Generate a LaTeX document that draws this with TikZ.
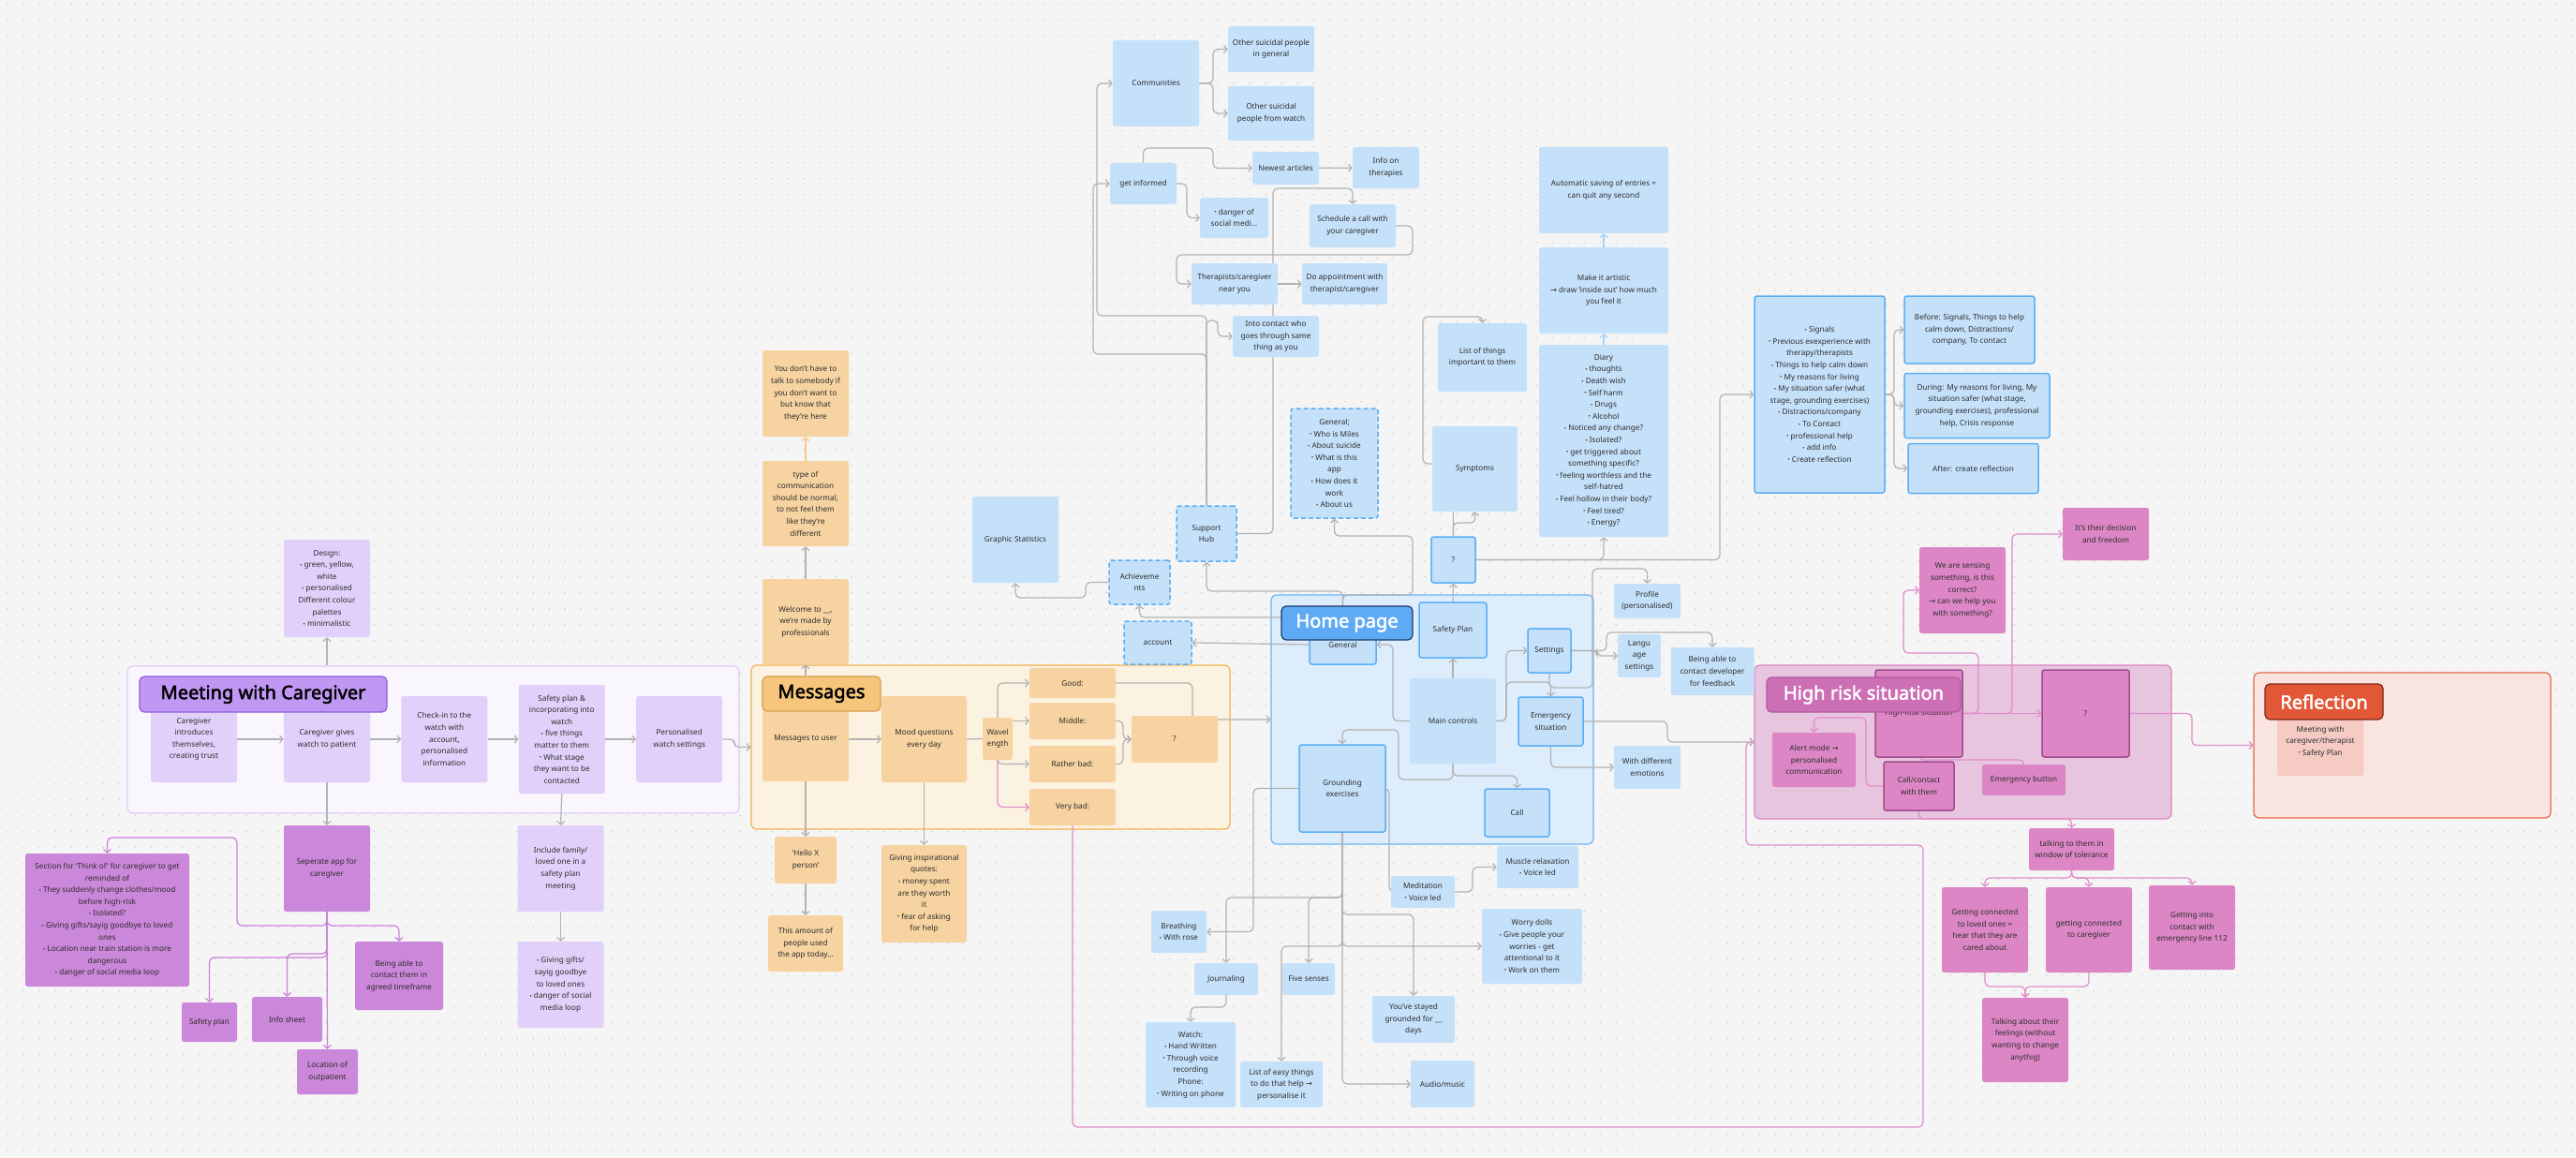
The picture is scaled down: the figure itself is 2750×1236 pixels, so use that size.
\documentclass[tikz,border=0pt]{standalone}
\usepackage{fontspec}
\setmainfont{Noto Sans}
\newfontfamily\headfont{Noto Sans}[FakeBold=2.2]
\newfontfamily\symfont{DejaVu Sans}
\usetikzlibrary{positioning, arrows.meta, backgrounds, patterns.meta}
\definecolor{canvas}{HTML}{F5F5F5}
\definecolor{dotc}{HTML}{BDBDBD}
\definecolor{ink}{HTML}{2C2C2C}
\definecolor{wire}{HTML}{B2B2B2}
\definecolor{lavender}{HTML}{E1D1FA}
\definecolor{meetfill}{HTML}{F9F6FE}
\definecolor{meetline}{HTML}{DDCCF8}
\definecolor{meettitle}{HTML}{C197F4}
\definecolor{meetedge}{HTML}{8F5CD6}
\definecolor{orchid}{HTML}{CB87D9}
\definecolor{orchidwire}{HTML}{CD7FDB}
\definecolor{apricot}{HTML}{F6D3A0}
\definecolor{msgfill}{HTML}{FCF2E1}
\definecolor{msgline}{HTML}{F4B04F}
\definecolor{msgtitle}{HTML}{F5C67C}
\definecolor{msgedge}{HTML}{D69D4C}
\definecolor{peach}{HTML}{F7C88A}
\definecolor{skyfill}{HTML}{C5E1FA}
\definecolor{azure}{HTML}{5AAEF4}
\definecolor{homefill}{HTML}{DDEDFC}
\definecolor{homeline}{HTML}{6CB4F4}
\definecolor{hometitle}{HTML}{5EAAF5}
\definecolor{homeedge}{HTML}{1C3A68}
\definecolor{paleblue}{HTML}{A7D2F5}
\definecolor{rosefill}{HTML}{DC86C5}
\definecolor{rosedark}{HTML}{A14A8C}
\definecolor{riskfill}{HTML}{E7C5DE}
\definecolor{riskline}{HTML}{D984C3}
\definecolor{risktitle}{HTML}{CC6FB5}
\definecolor{riskedge}{HTML}{B25A9E}
\definecolor{riskwire}{HTML}{E18CCB}
\definecolor{reflfill}{HTML}{F9E4E0}
\definecolor{reflline}{HTML}{E8684C}
\definecolor{refltitle}{HTML}{E25735}
\definecolor{refledge}{HTML}{7A2A1B}
\definecolor{coralfill}{HTML}{F5CBC4}

\tikzdeclarepattern{
  name=griddots,
  type=uncolored,
  bounding box={(0pt,0pt) and (16.7pt,16.7pt)},
  tile size={(16.7pt,16.7pt)},
  code={\fill (8.35pt,8.35pt) circle (0.75pt);}
}
\pgfdeclarelayer{background}
\pgfdeclarelayer{links}
\pgfdeclarelayer{top}
\pgfsetlayers{background,links,main,top}

\newcommand{\bul}{\raisebox{0.1ex}{\scalebox{0.75}{•}}\ }
\newcommand{\rarr}{{\symfont →}}

\begin{document}
\begin{tikzpicture}[x=1pt, y=-1pt,
    card/.style={rounded corners=2.5pt, align=center, inner sep=1pt, text=ink, font=\fontsize{8.2}{12.6}\selectfont},
    sz/.style 2 args={minimum width=#1pt, minimum height=#2pt},
    lav/.style={card, fill=lavender},
    plum/.style={card, fill=orchid},
    sand/.style={card, fill=apricot},
    sky/.style={card, fill=skyfill},
    skyrim/.style={sky, draw=azure, line width=1.5pt},
    skydash/.style={sky, draw=azure, line width=1.5pt, dash pattern=on 5pt off 3pt},
    rose/.style={card, fill=rosefill},
    roserim/.style={rose, draw=rosedark, line width=1.5pt},
    coral/.style={card, fill=coralfill},
    frame/.style={rounded corners=6pt, line width=1.2pt},
    banner/.style={rounded corners=5pt, line width=1.2pt, inner sep=0pt, font=\headfont\fontsize{20}{22}\selectfont},
    link/.style={draw=wire, line width=1.2pt, rounded corners=5pt, -{Straight Barb[length=3.5pt,width=8pt]}}
]
\useasboundingbox (0,0) rectangle (2750,1236);

% Canvas and section frames
\begin{pgfonlayer}{background}
\fill[canvas] (0,0) rectangle (2750,1236);
\fill[pattern=griddots, pattern color=dotc] (0,0) rectangle (2750,1236);
\node[frame, fill=meetfill, draw=meetline, sz={653}{157}] (meetbox) at (462.5,789.5) {};
\node[frame, fill=msgfill, draw=msgline, sz={511}{175}] (msgbox) at (1057.5,797.5) {};
\node[frame, fill=homefill, draw=homeline, sz={344}{266}] (homebox) at (1529,768) {};
\node[frame, fill=riskfill, draw=riskline, sz={445}{164}] (riskbox) at (2095.5,792) {};
\node[frame, fill=reflfill, draw=reflline, sz={317}{155}] (reflbox) at (2564.5,795.5) {};
\end{pgfonlayer}

% Meeting with Caregiver
\node[lav, sz={92}{92}] (cgintro) at (207,789) {Caregiver\\introduces\\themselves,\\creating trust};
\node[lav, sz={92}{92}] (cggive) at (349,789) {Caregiver gives\\watch to patient};
\node[lav, sz={92}{92}, right=33pt of cggive] (checkin) {Check-in to the\\watch with\\account,\\personalised\\information};
\node[lav, sz={92}{116}, right=33pt of checkin] (safeplan) {Safety plan \&\\incorporating into\\watch\\\bul five things\\matter to them\\\bul What stage\\they want to be\\contacted};
\node[lav, sz={92}{92}, right=33pt of safeplan] (watchset) {Personalised\\watch settings};
\node[lav, sz={92}{104}] (design) at (349,628) {Design:\\\bul green, yellow,\\white\\\bul personalised\\Different colour\\palettes\\\bul minimalistic};
\node[plum, sz={92}{92}] (sepapp) at (349,927) {Seperate app for\\caregiver};
\node[lav, sz={92}{92}] (family) at (598.5,927) {Include family/\\loved one in a\\safety plan\\meeting};
\node[lav, sz={92}{92}] (gifts) at (598.5,1051) {\bul Giving gifts/\\sayig goodbye\\to loved ones\\\bul danger of social\\media loop};
\node[plum, sz={175}{142}] (thinkof) at (114.5,982) {Section for ‘Think of’ for caregiver to get\\reminded of\\\bul They suddenly change clothes/mood\\before high-risk\\\bul Isolated?\\\bul Giving gifts/sayig goodbye to loved\\ones\\\bul Location near train station is more\\dangerous\\\bul danger of social media loop};
\node[plum, sz={59}{42}] (safetysmall) at (223.5,1091) {Safety plan};
\node[plum, sz={75}{48}] (infosheet) at (306.5,1088) {Info sheet};
\node[plum, sz={94}{73}] (reachable) at (426,1041.5) {Being able to\\contact them in\\agreed timeframe};
\node[plum, sz={65}{48}] (outpatient) at (349.5,1144) {Location of\\outpatient};

% Messages
\node[sand, sz={92}{90}] (msguser) at (860,789) {Messages to user};
\node[sand, sz={91}{92}] (mood) at (986.5,789) {Mood questions\\every day};
\node[sand, sz={32}{45}] (wave) at (1065,788.5) {Wavel\\ength};
\node[sand, sz={92}{32}] (good) at (1145,729) {Good:};
\node[sand, sz={92}{39}] (middle) at (1145,769.5) {Middle:};
\node[sand, sz={92}{39}] (ratherbad) at (1145,815.5) {Rather bad:};
\node[sand, sz={92}{39}] (verybad) at (1145,861.5) {Very bad:};
\node[sand, sz={92}{50}] (moodq) at (1254,789) {?};
\node[sand, sz={92}{91}] (welcome) at (860,663.5) {Welcome to \_\_,\\we’re made by\\professionals};
\node[sand, sz={92}{91}] (normalcomm) at (860,537.5) {type of\\communication\\should be normal,\\to not feel them\\like they’re\\different};
\node[sand, sz={92}{92}] (nopressure) at (860,420) {You don’t have to\\talk to somebody if\\you don’t want to\\but know that\\they’re here};
\node[sand, sz={66}{50}] (hello) at (860,918) {‘Hello X\\person’};
\node[sand, sz={80}{60}] (usedtoday) at (860,1007) {This amount of\\people used\\the app today…};
\node[sand, sz={91}{104}] (quotes) at (986.5,954) {Giving inspirational\\quotes:\\\bul money spent\\are they worth\\it\\\bul fear of asking\\for help};

% Support hub and information
\node[sky, sz={92}{92}] (stats) at (1084,576) {Graphic Statistics};
\node[skydash, sz={64}{59}] (hub) at (1288,569.5) {Support\\Hub};
\node[skydash, sz={65}{47}] (achieve) at (1216.5,621.5) {Achieveme\\nts};
\node[skydash, sz={72}{46}] (account) at (1236,686) {account};
\node[skydash, sz={93}{117}] (general) at (1424.5,494.5) {General;\\\bul Who is Miles\\\bul About suicide\\\bul What is this\\app\\\bul How does it\\work\\\bul About us};
\node[sky, sz={92}{92}] (community) at (1234,89) {Communities};
\node[sky, sz={92}{49}] (peergen) at (1357,52.5) {Other suicidal people\\in general};
\node[sky, sz={92}{58}] (peerwatch) at (1357,121) {Other suicidal\\people from watch};
\node[sky, sz={71}{44}] (informed) at (1220.5,196) {get informed};
\node[sky, sz={71}{35}] (articles) at (1372.5,179.5) {Newest articles};
\node[sky, sz={71}{44}] (therapies) at (1479.5,179) {Info on\\therapies};
\node[sky, sz={73}{43}] (socialmedia) at (1317.5,232.5) {\bul danger of\\social medi…};
\node[sky, sz={92}{46}] (schedule) at (1444,241) {Schedule a call with\\your caregiver};
\node[sky, sz={92}{44}] (nearyou) at (1318,303) {Therapists/caregiver\\near you};
\node[sky, sz={91}{44}] (appoint) at (1435.5,303) {Do appointment with\\therapist/caregiver};
\node[sky, sz={92}{44}] (samething) at (1362,359) {Into contact who\\goes through same\\thing as you};

% Diary and safety plan details
\node[sky, sz={138}{92}] (autosave) at (1712,203) {Automatic saving of entries =\\can quit any second};
\node[sky, sz={138}{92}] (artistic) at (1712,310) {Make it artistic\\\rarr{} draw ‘inside out’ how much\\you feel it};
\node[sky, sz={138}{205}] (diary) at (1712,470.5) {Diary\\\bul thoughts\\\bul Death wish\\\bul Self harm\\\bul Drugs\\\bul Alcohol\\\bul Noticed any change?\\\bul Isolated?\\\bul get triggered about\\something specific?\\\bul feeling worthless and the\\self-hatred\\\bul Feel hollow in their body?\\\bul Feel tired?\\\bul Energy?};
\node[sky, sz={95}{73}] (important) at (1582.5,381.5) {List of things\\important to them};
\node[sky, sz={91}{91}] (symptoms) at (1574.5,500.5) {Symptoms};
\node[skyrim, sz={47}{49}] (spq) at (1551.5,597.5) {?};
\node[skyrim, sz={139}{210}] (signals) at (1942.5,421) {\bul Signals\\\bul Previous exexperience with\\therapy/therapists\\\bul Things to help calm down\\\bul My reasons for living\\\bul My situation safer (what\\stage, grounding exercises)\\\bul Distractions/company\\\bul To Contact\\\bul professional help\\\bul add info\\\bul Create reflection};
\node[skyrim, sz={139}{72}] (before) at (2102.5,352) {Before: Signals, Things to help\\calm down, Distractions/\\company, To contact};
\node[skyrim, sz={155}{69}] (during) at (2110.5,433) {During: My reasons for living, My\\situation safer (what stage,\\grounding exercises), professional\\help, Crisis response};
\node[skyrim, sz={139}{53}] (after) at (2106.5,500) {After: create reflection};

% Home page
\node[skyrim, sz={71}{42}] (genhome) at (1433.5,688) {General};
\node[skyrim, sz={72}{59}] (sp) at (1551,672.5) {Safety Plan};
\node[skyrim, sz={46}{47}] (settings) at (1654,694.5) {Settings};
\node[sky, sz={92}{91}] (maincontrols) at (1551,769.5) {Main controls};
\node[skyrim, sz={69}{52}] (emergency) at (1655.5,770) {Emergency\\situation};
\node[skyrim, sz={92}{93}] (grounding) at (1433,841.5) {Grounding\\exercises};
\node[skyrim, sz={69}{51}] (call) at (1619.5,867.5) {Call};
\node[sky, sz={71}{37}] (profile) at (1758.5,641.5) {Profile\\(personalised)};
\node[sky, sz={46}{46}] (language) at (1750,700) {Langu\\age\\settings};
\node[sky, sz={89}{51}] (developer) at (1828,716.5) {Being able to\\contact developer\\for feedback};
\node[sky, sz={71}{46}] (emotions) at (1758.5,819) {With different\\emotions};

% Grounding exercises
\node[sky, sz={87}{45}] (muscle) at (1641.5,925.5) {Muscle relaxation\\\bul Voice led};
\node[sky, sz={68}{34}] (meditation) at (1519,952) {Meditation\\\bul Voice led};
\node[sky, sz={59}{45}] (breathing) at (1258.5,994.5) {Breathing\\\bul With rose};
\node[sky, sz={68}{34}] (journaling) at (1309,1045) {Journaling};
\node[sky, sz={56}{34}] (fivesenses) at (1397,1045) {Five senses};
\node[sky, sz={107}{80}] (worrydolls) at (1635.5,1010) {Worry dolls\\\bul Give people your\\worries - get\\attentional to it\\\bul Work on them};
\node[sky, sz={88}{50}] (streak) at (1509,1088) {You’ve stayed\\grounded for \_\_\\days};
\node[sky, sz={96}{91}] (watchjournal) at (1271,1136.5) {Watch:\\\bul Hand Written\\\bul Through voice\\recording\\Phone:\\\bul Writing on phone};
\node[sky, sz={88}{49}] (easythings) at (1368,1157.5) {List of easy things\\to do that help \rarr\\personalise it};
\node[sky, sz={68}{50}] (audio) at (1540,1157) {Audio/music};

% High risk situation
\node[roserim, sz={93}{93}] (highrisk) at (2048.5,761.5) {High-Risk situation};
\node[roserim, sz={93}{93}] (riskq) at (2226.5,761.5) {?};
\node[rose, sz={89}{58}] (alert) at (1936.5,811) {Alert mode \rarr\\personalised\\communication};
\node[roserim, sz={75}{52}] (callthem) at (2048.5,839) {Call/contact\\with them};
\node[rose, sz={89}{33}] (emergbtn) at (2160.5,832.5) {Emergency button};
\node[rose, sz={92}{92}] (sensing) at (2095,630) {We are sensing\\something, is this\\correct?\\\rarr{} can we help you\\with something?};
\node[rose, sz={92}{56}] (decision) at (2248,570) {It’s their decision\\and freedom};
\node[rose, sz={91}{45}] (tolerance) at (2211.5,906.5) {talking to them in\\window of tolerance};
\node[rose, sz={92}{91}] (lovedones) at (2119,992.5) {Getting connected\\to loved ones =\\hear that they are\\cared about};
\node[rose, sz={92}{91}] (tocaregiver) at (2230,992.5) {getting connected\\to caregiver};
\node[rose, sz={92}{90}] (line112) at (2340,990) {Getting into\\contact with\\emergency line 112};
\node[rose, sz={92}{90}] (feelings) at (2162,1110) {Talking about their\\feelings (without\\wanting to change\\anythig)};

% Reflection
\node[coral, sz={92}{73}] (reflmeet) at (2477,791.5) {Meeting with\\caregiver/therapist\\\bul Safety Plan};

% Section titles
\begin{pgfonlayer}{top}
\node[banner, fill=meettitle, draw=meetedge, text=black, sz={264}{38}] (meettitle) at (281,741) {Meeting with Caregiver};
\node[banner, fill=msgtitle, draw=msgedge, text=black, sz={126}{37}] (msgtitle) at (877,740.5) {Messages};
\node[banner, fill=hometitle, draw=homeedge, text=white, sz={140}{36}] (hometitle) at (1438,665) {Home page};
\node[banner, fill=risktitle, draw=riskedge, text=white, sz={207}{37}] (risktitle) at (1989.5,741.5) {High risk situation};
\node[banner, fill=refltitle, draw=refledge, text=white, sz={126}{38}] (refltitle) at (2481,749) {Reflection};
\end{pgfonlayer}

% Connectors
\begin{pgfonlayer}{links}
% meeting flow
\draw[link] (cgintro) -- (cggive);
\draw[link] (cggive) -- (checkin);
\draw[link] (checkin) -- (safeplan);
\draw[link] (safeplan) -- (watchset);
\draw[link] (watchset.east) -- (784,789) -- (784,797.5) -- (msgbox.west);
\draw[link] (meetbox.north -| design.south) -- (design.south);
\draw[link] (cggive.south) -- (sepapp.north);
\draw[link] (safeplan.south) -- (family.north);
\draw[link] (family.south) -- (gifts.north);
% caregiver app
\draw[link, draw=orchidwire] (sepapp.south) -- (349,988) -- (253,988) -- (253,894) -- (114.5,894) -- (thinkof.north);
\draw[link, draw=orchidwire] (sepapp.south) -- (349,988) -| (reachable.north);
\draw[link, draw=orchidwire] (sepapp.south) -- (349,1022) -| (safetysmall.north);
\draw[link, draw=orchidwire] (sepapp.south) -- (349,1018) -| (infosheet.north);
\draw[link, draw=orchidwire] (sepapp.south) -- (outpatient.north);
% messages
\draw[link] (welcome.south |- msgtitle.north) -- (welcome.south);
\draw[link] (welcome.north) -- (normalcomm.south);
\draw[link, draw=peach] (normalcomm.north) -- (nopressure.south);
\draw[link] (msguser.east) -- (mood.west);
\draw[link] (msguser.south) -- (hello.north);
\draw[link] (hello.south) -- (usedtoday.north);
\draw[link] (mood.south) -- (quotes.north);
\draw[draw=wire, line width=1.2pt] (mood.east) -- (wave.west);
\draw[link] (wave.north) |- (good.west);
\draw[link] (wave.east |- middle.west) -- (middle.west);
\draw[link] (wave.south) |- (ratherbad.west);
\draw[link, draw=riskwire] (wave.south) |- (verybad.west);
\draw[link] (middle.east) -- (1199,769.5) -- (1199,789) -- (moodq.west);
\draw[link] (ratherbad.east) -- (1199,815.5) -- (1199,789) -- (moodq.west);
\draw[link] (good.east) -- (1273,729) -- (1273,768) -- (homebox.west);
\draw[link, draw=riskwire] (verybad.south) -- (1145,1203) -- (2053,1203) -- (2053,902) -- (1864,902) -- (1864,792) -- (riskbox.west);
% home page
\draw[link] (maincontrols.north) -- (sp.south);
\draw[link] (sp.north) -- (spq.south);
\draw[link] (maincontrols.west) -- (1487,769.5) |- (genhome.east);
\draw[link] (maincontrols.east) -- (1608,769.5) |- (settings.west);
\draw[link] (maincontrols.east) -- (1608,769.5) -- (1608,728) -| (emergency.north);
\draw[link] (maincontrols.south) -- (1551,832) -- (1493,832) -- (1493,779) -| (grounding.north);
\draw[link] (maincontrols.south) -- (1551,828) -| (call.north);
\draw[link] (settings.east) -- (1705,694.5) |- (language.west);
\draw[link] (settings.east) -- (1715,694.5) -- (1715,675) -| (developer.north);
\draw[link] (settings.south) -- (1654,734) -- (1700,734) -- (1700,607) -| (profile.north);
\draw[link] (emergency.south) |- (emotions.west);
\draw[link] (emergency.east) -- (1780,770) -- (1780,792) -- (riskbox.west);
\draw[link] (genhome.west) -- (account.east);
\draw[link] ([yshift=29pt]genhome.west) -| (achieve.south);
\draw[link] (genhome.north) -- (1433.5,631) -| (hub.south);
\draw[link] (genhome.north) -- (1433.5,635) -- (1508,635) -- (1508,572) -| (general.south);
\draw[link] (achieve.west) -- (1159,621.5) -- (1159,638) -| (stats.south);
% support hub
\draw[link] (hub.north) -- (1288,337) -- (1171,337) |- (community.west);
\draw[link] (hub.north) -- (1288,378) -- (1167,378) |- (informed.west);
\draw[link] (hub.north) -- (1288,342) -- (1300,342) |- (samething.west);
\draw[link] (hub.east) -- (1359,569.5) -- (1359,201) -| (schedule.north);
\draw[link] (informed.north) -- (1220.5,158) -- (1295,158) |- (articles.west);
\draw[link] (informed.east) -- (1267,196) |- (socialmedia.west);
\draw[link] (articles) -- (therapies);
\draw[link] (community.east) -- (1295,89) |- (peergen.west);
\draw[link] (community.east) -- (1295,89) |- (peerwatch.west);
\draw[link] (schedule.east) -- (1508,241) -- (1508,272) -- (1256,272) |- (nearyou.west);
\draw[link] (nearyou) -- (appoint);
% safety plan question
\draw[link] (spq.north) -- (1551,558) -- (1575,558) -- (symptoms.south);
\draw[link] (spq.north) -- (1551,495) -- (1519,495) -- (1519,338) -| (important.north);
\draw[link] (spq.east) -| (diary.south);
\draw[link] (spq.east) -- (1836,597.5) |- (signals.west);
\draw[link, draw=paleblue] (diary.north) -- (artistic.south);
\draw[link, draw=paleblue] (artistic.north) -- (autosave.south);
\draw[link] (signals.east) -- (2022,421) |- (before.west);
\draw[link] (signals.east) -- (2022,421) |- (during.west);
\draw[link] (signals.east) -- (2022,421) |- (after.west);
% grounding
\draw[link] (grounding.west) -- (1338,841.5) |- (breathing.east);
\draw[link] (grounding.south) -- (1433,958) -| (journaling.north);
\draw[link] (grounding.south) -- (1433,958) -| (fivesenses.north);
\draw[link] (grounding.south) -- (1433,976) -| (streak.north);
\draw[link] (grounding.south) |- (worrydolls.west);
\draw[link] (grounding.south) -- (1433,1010) -| (easythings.north);
\draw[link] (grounding.south) |- (audio.west);
\draw[link] (grounding.east) -- (1483,841.5) |- (meditation.west);
\draw[link] (meditation.east) -- (1572,952) |- (muscle.west);
\draw[link] (journaling.south) -- (1309,1075) -| (watchjournal.north);
% high risk
\draw[link, draw=riskwire] (highrisk.east) -- (riskq.west);
\draw[link, draw=riskwire] (highrisk.east) -- (2112,761.5) -- (2112,697) -- (2032,697) |- (sensing.west);
\draw[link, draw=riskwire] (highrisk.east) -- (2148,761.5) |- (decision.west);
\draw[link, draw=riskwire] (riskq.east) -- (2340,761.5) |- (reflbox.west);
\draw[link, draw=riskwire] (highrisk.south) -- (2048.5,811) -| (emergbtn.north);
\draw[link, draw=riskwire] (callthem.west) -- (1992,839) -- (1992,766) -| (alert.north);
\draw[link, draw=riskwire] (callthem.south) -- (2048.5,874) -| (tolerance.north);
\draw[link, draw=riskwire] (tolerance.south) -- (2211.5,937) -| (lovedones.north);
\draw[link, draw=riskwire] (tolerance.south) -- (2211.5,937) -| (tocaregiver.north);
\draw[link, draw=riskwire] (tolerance.south) -- (2211.5,937) -| (line112.north);
\draw[link, draw=riskwire] (lovedones.south) -- (2119,1053) -| (feelings.north);
\draw[link, draw=riskwire] (tocaregiver.south) -- (2230,1053) -| (feelings.north);
\end{pgfonlayer}

\end{tikzpicture}
\end{document}
